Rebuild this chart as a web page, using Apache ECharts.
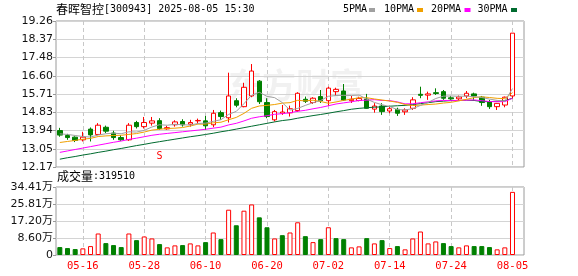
<!DOCTYPE html>
<html><head><meta charset="utf-8">
<script src="https://cdn.jsdelivr.net/npm/echarts@6/dist/echarts.min.js"></script>
<style>html,body{margin:0;padding:0;background:#fff}#c{width:578px;height:276px}</style>
</head><body><div id="c"></div>
<script>
const dates = ['05-13','05-14','05-15','05-16','05-19','05-20','05-21','05-22','05-23','05-26','05-27','05-28','05-29','05-30','06-03','06-04','06-05','06-06','06-09','06-10','06-11','06-12','06-13','06-16','06-17','06-18','06-19','06-20','06-23','06-24','06-25','06-26','06-27','06-30','07-01','07-02','07-03','07-04','07-07','07-08','07-09','07-10','07-11','07-14','07-15','07-16','07-17','07-18','07-21','07-22','07-23','07-24','07-25','07-28','07-29','07-30','07-31','08-01','08-04','08-05'];
const opens  = [13.94,13.70,13.62,13.49,14.01,13.75,14.10,13.82,13.60,13.49,14.33,14.13,14.30,14.42,14.02,14.22,14.38,14.25,14.41,14.41,14.22,14.81,14.56,15.39,15.10,15.62,16.34,15.30,14.46,14.78,14.80,14.91,15.46,15.30,15.59,15.39,15.83,15.86,15.39,15.40,15.47,14.98,15.13,14.89,14.97,14.85,15.02,15.70,15.66,15.78,15.83,15.53,15.48,15.62,15.72,15.56,15.34,15.10,15.18,15.62];
const closes = [13.72,13.60,13.46,13.62,13.73,14.20,13.91,13.60,13.49,14.20,14.13,14.33,14.41,14.04,14.08,14.36,14.22,14.33,14.43,14.17,14.78,14.62,15.62,15.17,16.04,16.83,15.34,14.62,14.86,14.84,15.00,15.75,15.36,15.51,15.39,16.00,15.94,15.42,15.46,15.50,15.02,15.13,14.86,15.00,14.78,14.94,15.43,15.65,15.72,15.74,15.51,15.48,15.57,15.75,15.62,15.30,15.10,15.26,15.56,18.67];
const lows   = [13.64,13.49,13.38,13.41,13.41,13.72,13.82,13.49,13.44,13.44,14.04,14.04,14.18,13.98,13.98,14.13,14.13,14.13,14.26,13.97,14.10,14.46,14.33,15.07,15.07,15.56,15.23,14.54,14.38,14.70,14.62,14.85,15.28,15.23,15.28,15.14,15.62,15.38,15.28,15.36,15.00,14.81,14.70,14.78,14.65,14.70,14.94,15.51,15.43,15.67,15.43,15.43,15.39,15.51,15.43,15.14,14.99,14.94,15.07,15.50];
const highs  = [14.07,13.78,13.66,13.88,14.09,14.30,14.18,13.93,13.72,14.30,14.41,14.60,14.60,14.54,14.17,14.44,14.49,14.46,14.52,14.65,14.94,14.91,16.75,15.51,16.26,17.17,16.39,15.51,14.94,15.18,15.15,15.80,15.59,15.56,15.91,16.07,16.02,16.20,15.62,15.58,15.72,15.27,15.27,15.10,15.05,15.02,15.56,16.07,15.83,15.99,15.91,15.62,15.64,15.86,15.78,15.62,15.43,15.28,15.59,18.67];
const volumes = [40100,35100,30100,33600,45100,108800,60200,50200,40100,108800,75200,93800,83800,55200,38600,48700,50200,58700,48700,65200,113900,80300,229200,150500,224200,255800,190600,140400,83800,100300,113900,165500,95300,65200,80300,140400,85300,80300,38600,43600,85300,58700,75200,35100,45100,28600,83800,118900,58700,68700,60200,45100,38600,48700,45100,45100,40100,28600,38600,319510];
// moving-average values before a full window is available
const ma5Head  = [13.78,13.75,13.70,13.65];
const ma10Head = [13.36,13.41,13.46,13.52,13.56,13.65,13.68,13.70,13.71];
const ma20Head = [12.88,12.95,13.02,13.09,13.16,13.23,13.30,13.37,13.43,13.51,13.57,13.64,13.71,13.76,13.80,13.84,13.88,13.92,13.96];
const ma30Head = [12.55,12.62,12.68,12.75,12.81,12.88,12.94,13.01,13.07,13.14,13.21,13.27,13.34,13.40,13.46,13.52,13.58,13.64,13.69,13.75,13.81,13.88,13.94,14.01,14.08,14.15,14.22,14.29,14.36];
const priceTicks = ['12.17','13.05','13.94','14.83','15.71','16.60','17.48','18.37','19.26'];
const volTicks = ['0','8.60万','17.20万','25.81万','34.41万'];
const labelStart = 3, labelStep = 8;
const eventDate = '05-30', eventText = 'S';

function ma(n, head) {
  return closes.map((c, i) => {
    if (i < n - 1) return head[i];
    let s = 0;
    for (let k = i - n + 1; k <= i; k++) s += closes[k];
    return +(s / n).toFixed(3);
  });
}
const RED = '#ff0000', GREEN = '#008000';
const candleData = dates.map((d, i) => [opens[i], closes[i], lows[i], highs[i]]);
const volData = volumes.map((v, i) => {
  const ref = i > 0 ? closes[i - 1] : opens[i];
  const up = closes[i] >= ref;
  return { value: v, itemStyle: up ? { color: '#ffffff', borderColor: RED, borderWidth: 1 } : { color: GREEN, borderColor: GREEN, borderWidth: 1 } };
});
const cats = dates.concat(['']);
const showIdx = (idx) => idx >= labelStart && (idx - labelStart) % labelStep === 0 && idx < dates.length;
const pMin = 12.17, pMax = 19.26, pInt = (pMax - pMin) / 8;
const vMax = 344100, vInt = vMax / 4;
const L = 56, W = 468;
const maColors = ['#a0a0a0', '#f0a000', '#ff00ff', '#006b2f'];
const maNames = ['5PMA', '10PMA', '20PMA', '30PMA'];
const maSeries = [ma(5, ma5Head), ma(10, ma10Head), ma(20, ma20Head), ma(30, ma30Head)];

const chart = echarts.init(document.getElementById('c'), null, { renderer: 'canvas' });
const gridLine = { show: true, lineStyle: { color: '#d4d4d4', width: 1 } };
const vSplit = { show: true, interval: (i) => showIdx(i), alignWithLabel: true, lineStyle: { color: '#c8c8c8', type: [4, 3], width: 1 } };
const legendG = [];
const legX = [343, 384, 431, 477.5];
const sqX = [369, 417, 464.5, 511];
maNames.forEach((n, k) => {
  legendG.push({ type: 'text', left: legX[k], top: 4, style: { text: n, font: '10px "DejaVu Sans Mono"', fill: '#000' } });
  legendG.push({ type: 'rect', left: sqX[k], top: 8, shape: { width: 6, height: 4 }, style: { fill: maColors[k] } });
});
chart.setOption({
  animation: false,
  backgroundColor: '#ffffff',
  graphic: [
    { type: 'text', left: 228, top: 68, z: 0, style: { text: '东方财富', font: 'bold 34px "Noto Sans CJK SC"', fill: 'rgba(0,0,0,0.055)' } },
    { type: 'text', left: 56, top: 3, style: { text: '春晖智控', font: '12px "Noto Sans CJK SC"', fill: '#000' } },
    { type: 'text', left: 104, top: 4.5, style: { text: '[300943] 2025-08-05 15:30', font: '10px "DejaVu Sans Mono"', fill: '#000' } },
    { type: 'text', left: 57, top: 170, style: { text: '成交量', font: '12px "Noto Sans CJK SC"', fill: '#000' } },
    { type: 'text', left: 93, top: 171.5, style: { text: ':' + volumes[volumes.length - 1], font: '10px "DejaVu Sans Mono"', fill: '#000' } }
  ].concat(legendG),
  grid: [
    { left: L, width: W, top: 21, height: 146, show: true, borderColor: '#9a9a9a', borderWidth: 1, backgroundColor: 'transparent' },
    { left: L, width: W, top: 187, height: 68, show: true, borderColor: '#9a9a9a', borderWidth: 1, backgroundColor: 'transparent' }
  ],
  xAxis: [
    { type: 'category', gridIndex: 0, data: cats, boundaryGap: true, axisLine: { show: false }, axisTick: { show: false }, axisLabel: { show: false }, splitLine: vSplit },
    { type: 'category', gridIndex: 1, data: cats, boundaryGap: true, axisLine: { show: false }, axisTick: { show: false },
      axisLabel: { show: true, interval: (i) => showIdx(i), color: RED, fontFamily: 'DejaVu Sans Mono', fontSize: 10.5, margin: 6 }, splitLine: vSplit }
  ],
  yAxis: [
    { type: 'value', gridIndex: 0, min: pMin, max: pMax, interval: pInt, axisLine: { show: false },
      axisTick: { show: true, length: 3, lineStyle: { color: '#9a9a9a' } },
      axisLabel: { color: '#111', fontFamily: 'DejaVu Sans', fontSize: 11, margin: 3, formatter: (v) => priceTicks[Math.round((v - pMin) / pInt)] },
      splitLine: gridLine },
    { type: 'value', gridIndex: 1, min: 0, max: vMax, interval: vInt, axisLine: { show: false },
      axisTick: { show: true, length: 3, lineStyle: { color: '#9a9a9a' } },
      axisLabel: { color: '#111', fontFamily: 'DejaVu Sans, Noto Sans CJK SC', fontSize: 11, margin: 3, formatter: (v) => volTicks[Math.round(v / vInt)] },
      splitLine: gridLine }
  ],
  series: [
    { type: 'candlestick', xAxisIndex: 0, yAxisIndex: 0, data: candleData, barWidth: 5,
      itemStyle: { color: '#ffffff', color0: GREEN, borderColor: RED, borderColor0: GREEN, borderWidth: 1 },
      markPoint: { silent: true, symbol: 'circle', symbolSize: 1, itemStyle: { color: 'rgba(0,0,0,0)' },
        label: { show: true, position: 'inside', formatter: eventText, color: RED, fontFamily: 'DejaVu Sans Mono', fontSize: 10 },
        data: [{ coord: [eventDate, pMin + 0.5] }] } },
    { type: 'bar', xAxisIndex: 1, yAxisIndex: 1, data: volData, barWidth: 5 }
  ].concat(maSeries.map((d, k) => ({
    type: 'line', name: maNames[k], xAxisIndex: 0, yAxisIndex: 0, data: d, showSymbol: false, symbol: 'none',
    lineStyle: { color: maColors[k], width: 1 }, z: 3 + (3 - k)
  })))
});
</script></body></html>
